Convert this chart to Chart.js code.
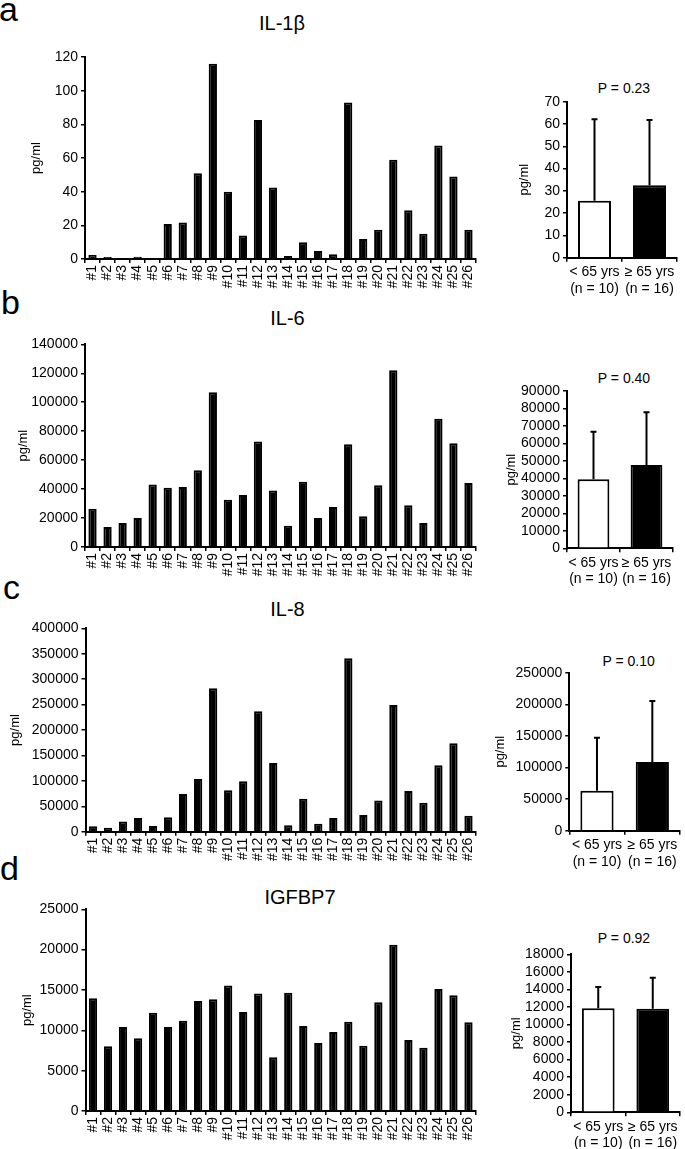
<!DOCTYPE html>
<html><head><meta charset="utf-8">
<script src="https://cdn.jsdelivr.net/npm/chart.js@4.4.1/dist/chart.umd.min.js"></script>
<style>
html,body{margin:0;padding:0;background:#fff;}
body{width:685px;height:1149px;position:relative;overflow:hidden;font-family:"Liberation Sans",Arial,Helvetica,sans-serif;color:#000;}
canvas{position:absolute;}
.lbl{position:absolute;white-space:nowrap;line-height:1;}
.letter{font-size:34px;}
.title{font-size:20px;line-height:20px;transform:translateX(-50%);}
.pval{font-size:14px;line-height:14px;transform:translateX(-50%);}
</style></head><body>
<div class="lbl letter" style="left:-1px;top:-8px">a</div>
<div class="lbl letter" style="left:1px;top:284.5px">b</div>
<div class="lbl letter" style="left:3px;top:569.5px">c</div>
<div class="lbl letter" style="left:0px;top:851px">d</div>
<div class="lbl title" style="left:282px;top:13px">IL-1β</div>
<div class="lbl title" style="left:287.5px;top:308px">IL-6</div>
<div class="lbl title" style="left:287.5px;top:599px">IL-8</div>
<div class="lbl title" style="left:300px;top:886.5px">IGFBP7</div>
<div class="lbl pval" style="left:624px;top:81px">P = 0.23</div>
<div class="lbl pval" style="left:624px;top:371px">P = 0.40</div>
<div class="lbl pval" style="left:628.7px;top:654px">P = 0.10</div>
<div class="lbl pval" style="left:624px;top:931px">P = 0.92</div>
<script>
// ---------- DATA ----------
const patients = ['#1','#2','#3','#4','#5','#6','#7','#8','#9','#10','#11','#12','#13','#14','#15','#16','#17','#18','#19','#20','#21','#22','#23','#24','#25','#26'];
const il1b   = [2.4, 1.2, 0.3, 1.4, 0.2, 20.8, 21.7, 51.0, 116.0, 39.9, 14.0, 82.6, 42.5, 1.8, 9.9, 4.7, 2.8, 92.9, 11.9, 17.4, 58.9, 28.9, 15.0, 67.4, 49.0, 17.4];
const il6    = [26500, 13800, 16600, 20000, 43100, 41000, 41400, 53000, 106800, 32700, 35900, 72800, 39100, 14700, 45100, 20000, 27600, 70900, 21200, 42600, 122000, 28800, 16600, 88600, 71600, 44200];
const il8    = [10500, 7900, 20300, 26900, 11100, 28200, 74100, 103600, 282000, 81300, 99000, 236700, 135100, 12500, 64900, 15700, 26900, 341000, 32800, 61600, 249000, 80000, 57000, 130500, 173800, 31500];
const igfbp7 = [13970, 8020, 10410, 9010, 12190, 10410, 11200, 13640, 13840, 15540, 12270, 14550, 6650, 14670, 10540, 8430, 9790, 11070, 8100, 13470, 20620, 8800, 7850, 15120, 14340, 10990];

const groups = [['< 65 yrs','(n = 10)'], ['≥ 65 yrs','(n = 16)']];
const il1bMean = [25.6, 32.5],      il1bSD = [36.5, 29.3];
const il6Mean  = [39500, 47700],    il6SD  = [27200, 30100];
const il8Mean  = [63300, 108600],   il8SD  = [83900, 96600];
const igfMean  = [11850, 11810],    igfSD  = [2430, 3530];

const il1bAxis = [120, 20], il6Axis = [140000, 20000], il8Axis = [400000, 50000], igfAxis = [25000, 5000];
const il1bGAxis = [70, 10], il6GAxis = [90000, 10000], il8GAxis = [250000, 50000], igfGAxis = [18000, 2000];

// ---------- RENDER ----------
Chart.defaults.font.family = '"Liberation Sans", Arial, Helvetica, sans-serif';
Chart.defaults.color = '#000';

const errorBars = {
  id: 'errorBars',
  afterDatasetsDraw(chart) {
    const ds = chart.data.datasets[0];
    if (!ds.sd) return;
    const meta = chart.getDatasetMeta(0);
    const y = chart.scales.y;
    const ctx = chart.ctx;
    ctx.save();
    ctx.strokeStyle = '#000';
    ctx.lineWidth = 2;
    meta.data.forEach((bar, i) => {
      const top = y.getPixelForValue(ds.data[i] + ds.sd[i]);
      ctx.beginPath();
      ctx.moveTo(bar.x, bar.y);
      ctx.lineTo(bar.x, top);
      ctx.moveTo(bar.x - 3, top);
      ctx.lineTo(bar.x + 3, top);
      ctx.stroke();
    });
    ctx.restore();
  }
};

function makeChart(o) {
  const cv = document.createElement('canvas');
  cv.width = o.box[2]; cv.height = o.box[3];
  cv.style.left = o.box[0] + 'px'; cv.style.top = o.box[1] + 'px';
  cv.style.width = o.box[2] + 'px'; cv.style.height = o.box[3] + 'px';
  document.body.appendChild(cv);
  const boxL = o.box[0], boxT = o.box[1], boxR = o.box[0] + o.box[2], boxB = o.box[1] + o.box[3];
  const ds = {
    data: o.data,
    backgroundColor: o.colors,
    borderColor: '#000',
    borderWidth: 2,
    barPercentage: o.barPct,
    categoryPercentage: 1
  };
  if (o.sd) ds.sd = o.sd;
  new Chart(cv, {
    type: 'bar',
    data: { labels: o.labels, datasets: [ds] },
    options: {
      responsive: false,
      animation: false,
      devicePixelRatio: 1,
      layout: { padding: { left: 0, top: o.top - boxT, right: boxR - o.right, bottom: 0 } },
      plugins: { legend: { display: false }, tooltip: { enabled: false }, title: { display: false } },
      scales: {
        x: {
          offset: true,
          grid: { display: true, offset: true, drawOnChartArea: false, drawTicks: true, tickLength: 4, color: '#000', lineWidth: 1.5 },
          border: { display: true, color: '#000', width: 2 },
          ticks: { color: '#000', font: { size: 14 }, maxRotation: o.rot ? 90 : 0, minRotation: o.rot ? 90 : 0, autoSkip: false, padding: 2 },
          afterFit: s => { s.height = boxB - o.zero; }
        },
        y: {
          min: 0, max: o.axis[0],
          ticks: { stepSize: o.axis[1], autoSkip: false, color: '#000', font: { size: 14 }, padding: 3, callback: v => String(v) },
          grid: { display: true, drawOnChartArea: false, drawTicks: true, tickLength: 4, color: '#000', lineWidth: 1.5 },
          border: { display: true, color: '#000', width: 2 },
          title: { display: true, text: 'pg/ml', color: '#000', font: { size: 13 }, padding: { top: o.titleX - boxL - 7.8, bottom: 0 } },
          afterFit: s => { s.width = o.axisX - boxL; }
        }
      }
    },
    plugins: [errorBars]
  });
}

const black = '#000', white = '#fff';
// Panel a
makeChart({ box: [0, 40, 490, 260], axisX: 85, top: 57, zero: 259, right: 476, titleX: 36.7, labels: patients, data: il1b, colors: black, barPct: 0.55, axis: il1bAxis, rot: true });
makeChart({ box: [485, 80, 200, 222], axisX: 567, top: 101.7, zero: 257.7, right: 677, titleX: 524.2, labels: groups, data: il1bMean, sd: il1bSD, colors: [white, black], barPct: 0.6, axis: il1bGAxis, rot: false });
// Panel b
makeChart({ box: [0, 325, 490, 262], axisX: 85, top: 344.3, zero: 547, right: 476, titleX: 23.3, labels: patients, data: il6, colors: black, barPct: 0.55, axis: il6Axis, rot: true });
makeChart({ box: [485, 370, 200, 222], axisX: 567, top: 391, zero: 548.3, right: 673, titleX: 511, labels: groups, data: il6Mean, sd: il6SD, colors: [white, black], barPct: 0.6, axis: il6GAxis, rot: false });
// Panel c
makeChart({ box: [0, 605, 490, 262], axisX: 85.5, top: 628.3, zero: 831.7, right: 476, titleX: 15.3, labels: patients, data: il8, colors: black, barPct: 0.55, axis: il8Axis, rot: true });
makeChart({ box: [485, 650, 200, 225], axisX: 569.3, top: 672.7, zero: 830.7, right: 680, titleX: 500.5, labels: groups, data: il8Mean, sd: il8SD, colors: [white, black], barPct: 0.6, axis: il8GAxis, rot: false });
// Panel d
makeChart({ box: [0, 885, 490, 264], axisX: 85.5, top: 909.3, zero: 1111, right: 476, titleX: 27, labels: patients, data: igfbp7, colors: black, barPct: 0.55, axis: igfAxis, rot: true });
makeChart({ box: [485, 930, 200, 219], axisX: 571, top: 954.3, zero: 1112.3, right: 680, titleX: 516.7, labels: groups, data: igfMean, sd: igfSD, colors: [white, black], barPct: 0.6, axis: igfGAxis, rot: false });
</script>
</body></html>
